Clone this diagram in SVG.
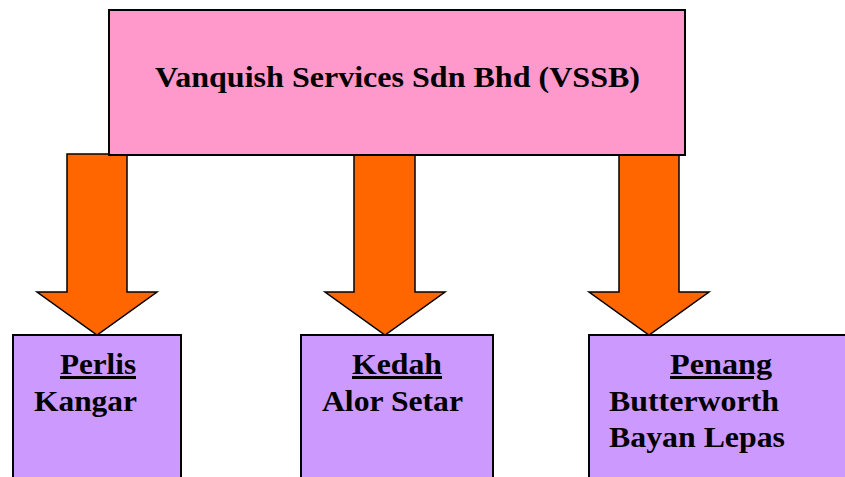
<svg xmlns="http://www.w3.org/2000/svg" width="845" height="477" viewBox="0 0 845 477">
<style>
.box{stroke:#000;stroke-width:2}
.top{fill:#FF99CC}
.sub{fill:#CC99FF}
.arrow{fill:#FF6600;stroke:#000;stroke-width:1.5;stroke-linejoin:miter}
.t{font-family:'Liberation Serif','Times New Roman',Times,serif;font-weight:700;font-size:30px;fill:#000}
.u{text-decoration:underline}
</style>
<rect width="845" height="477" fill="#fff"/>
<g id="connectors">
<polygon class="arrow" points="67,154 127,154 127,292 157,292 97,335 37,292 67,292"/>
<polygon class="arrow" points="354,154 415,154 415,292 445,292 385,335 325,292 354,292"/>
<polygon class="arrow" points="619,154 679,154 679,292 709,292 649,335 589,292 619,292"/>
</g>
<g id="vssb">
<rect class="box top" x="109" y="10" width="576" height="145"/>
<text class="t" x="155" y="87" textLength="485" lengthAdjust="spacingAndGlyphs">Vanquish Services Sdn Bhd (VSSB)</text>
</g>
<g id="perlis">
<rect class="box sub" x="13" y="335" width="168" height="150"/>
<text class="t u" x="60" y="374" textLength="76" lengthAdjust="spacingAndGlyphs">Perlis</text>
<text class="t" x="34" y="411" textLength="103" lengthAdjust="spacingAndGlyphs">Kangar</text>
</g>
<g id="kedah">
<rect class="box sub" x="301" y="335" width="192" height="150"/>
<text class="t u" x="352" y="374" textLength="90" lengthAdjust="spacingAndGlyphs">Kedah</text>
<text class="t" x="322" y="411" textLength="141" lengthAdjust="spacingAndGlyphs">Alor Setar</text>
</g>
<g id="penang">
<rect class="box sub" x="589" y="335" width="270" height="150"/>
<text class="t u" x="670" y="374" textLength="102" lengthAdjust="spacingAndGlyphs">Penang</text>
<text class="t" x="609" y="411" textLength="170" lengthAdjust="spacingAndGlyphs">Butterworth</text>
<text class="t" x="609" y="447" textLength="176" lengthAdjust="spacingAndGlyphs">Bayan Lepas</text>
</g>
</svg>
